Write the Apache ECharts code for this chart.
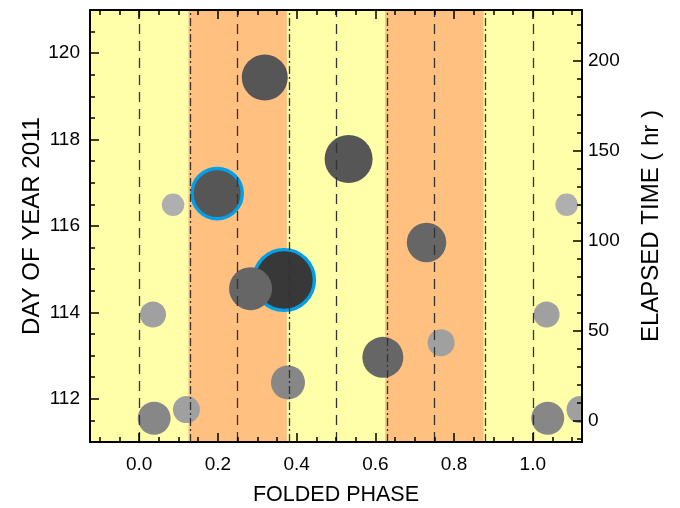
<!DOCTYPE html>
<html>
<head>
<meta charset="utf-8">
<script src="https://cdn.jsdelivr.net/npm/echarts@6/dist/echarts.min.js"></script>
<style>html,body{margin:0;padding:0;background:#fff}#c{width:680px;height:508px}</style>
</head>
<body>
<div id="c"></div>
<script>
// ---- data ----
const phase = [0.319, 0.532, 0.198, 0.086, 1.086, 0.368, 0.283, 0.035, 1.035, 0.038, 1.038, 0.120, 1.120, 0.378, 0.619, 0.730, 0.767];
const dayOfYear = [119.44, 117.55, 116.75, 116.49, 116.49, 114.75, 114.55, 113.95, 113.95, 111.55, 111.55, 111.75, 111.75, 112.38, 112.96, 115.62, 113.30];
const bubbleSize = [46, 48, 50.3, 22.5, 22.5, 60.7, 43, 26, 26, 33, 33, 27, 27, 34, 41, 39.5, 27];
const level = [5, 5, 5, 1, 1, 6, 4, 2, 2, 3, 3, 2, 2, 3, 4, 4, 2];
const ringed = [0, 0, 1, 0, 0, 1, 0, 0, 0, 0, 0, 0, 0, 0, 0, 0, 0];

const orangeBands = [[0.125, 0.375], [0.625, 0.875]];
const dashedLines = [0.0, 0.25, 0.5, 0.75, 1.0];
const dashDotLines = [0.125, 0.375, 0.625, 0.875];

const xMajorTicks = [0.0, 0.2, 0.4, 0.6, 0.8, 1.0];
const xMinorTicks = [-0.1, -0.05, 0.05, 0.1, 0.15, 0.25, 0.3, 0.35, 0.45, 0.5, 0.55, 0.65, 0.7, 0.75, 0.85, 0.9, 0.95, 1.05, 1.1];
const dayMajorTicks = [112, 114, 116, 118, 120];
const dayMinorTicks = [111.5, 112.5, 113, 113.5, 114.5, 115, 115.5, 116.5, 117, 117.5, 118.5, 119, 119.5, 120.5];
const hourMajorTicks = [0, 50, 100, 150, 200];
const hourMinorTicks = [-10, 10, 20, 30, 40, 60, 70, 80, 90, 110, 120, 130, 140, 160, 170, 180, 190, 210, 220];

// ---- styles ----
const shadeByLevel = {1: '#afafaf', 2: '#a0a0a0', 3: '#878787', 4: '#666666', 5: '#565656', 6: '#383838'};
const FONT = 'Liberation Sans';
const black = '#000';

function xAxisDef(pos, ticks, len, withLine, withLabel) {
  return {
    type: 'value', min: -0.125, max: 1.125, position: pos, gridIndex: 0,
    axisLine: {show: withLine, onZero: false, lineStyle: {color: black, width: 2}},
    axisTick: {show: true, inside: true, length: len, customValues: ticks, lineStyle: {color: black, width: 1.5}},
    axisLabel: {show: withLabel, customValues: ticks, formatter: v => Number(v).toFixed(1), margin: 13,
      fontSize: 19, color: black, fontFamily: FONT},
    splitLine: {show: false}, z: 10
  };
}
function yAxisDef(pos, min, max, ticks, len, withLine, withLabel, fmt, margin) {
  return {
    type: 'value', min: min, max: max, position: pos, gridIndex: 0,
    axisLine: {show: withLine, onZero: false, lineStyle: {color: black, width: 2}},
    axisTick: {show: true, inside: true, length: len, customValues: ticks, lineStyle: {color: black, width: 1.5}},
    axisLabel: {show: withLabel, customValues: ticks, formatter: fmt, margin: margin,
      fontSize: 19, color: black, fontFamily: FONT},
    splitLine: {show: false}, z: 10
  };
}

const xMain = xAxisDef('bottom', xMajorTicks, 9, true, true);
xMain.name = 'FOLDED PHASE';
xMain.nameLocation = 'middle';
xMain.nameGap = 42;
xMain.nameMoveOverlap = false;
xMain.nameTextStyle = {fontSize: 21.5, color: black, fontFamily: FONT};

const yDay = yAxisDef('left', 111, 121, dayMajorTicks, 9, true, true, v => String(Math.round(v)), 10);
yDay.name = 'DAY OF YEAR 2011';
yDay.nameLocation = 'middle';
yDay.nameRotate = 90;
yDay.nameGap = 46;
yDay.nameMoveOverlap = false;
yDay.nameTextStyle = {fontSize: 24, color: black, fontFamily: FONT};

const yHour = yAxisDef('right', -12, 228, hourMajorTicks, 9, true, true, v => String(Math.round(v)), 6);
yHour.name = 'ELAPSED TIME ( hr )';
yHour.nameLocation = 'middle';
yHour.nameRotate = 90;
yHour.nameGap = 57;
yHour.nameMoveOverlap = false;
yHour.nameTextStyle = {fontSize: 24, color: black, fontFamily: FONT};

const points = phase.map((p, i) => [p, dayOfYear[i]]);

const option = {
  animation: false,
  backgroundColor: '#fff',
  grid: {left: 90, right: 98, top: 10, bottom: 66, show: true, backgroundColor: '#ffffaa', borderWidth: 0,
    containLabel: false, outerBoundsMode: 'none'},
  xAxis: [
    xMain,
    xAxisDef('bottom', xMinorTicks, 5, false, false),
    xAxisDef('top', xMajorTicks, 9, true, false),
    xAxisDef('top', xMinorTicks, 5, false, false)
  ],
  yAxis: [
    yDay,
    yAxisDef('left', 111, 121, dayMinorTicks, 5, false, false, null, 8),
    yHour,
    yAxisDef('right', -12, 228, hourMinorTicks, 5, false, false, null, 8)
  ],
  series: [
    {
      type: 'scatter', xAxisIndex: 0, yAxisIndex: 0, data: [], z: 1, silent: true,
      markArea: {
        silent: true,
        itemStyle: {color: '#ffc080'},
        data: orangeBands.map(b => [{xAxis: b[0]}, {xAxis: b[1]}])
      },
      markLine: {
        silent: true, symbol: ['none', 'none'], label: {show: false},
        data: dashedLines.map(v => ({xAxis: v, lineStyle: {type: [10, 7], color: '#333', width: 1.3}}))
          .concat(dashDotLines.map(v => ({xAxis: v, lineStyle: {type: [8, 3, 2, 3], color: '#333', width: 1.3}})))
      }
    },
    {
      type: 'custom', xAxisIndex: 0, yAxisIndex: 0, z: 3, clip: true,
      data: points,
      renderItem: function (params, api) {
        const i = params.dataIndex;
        const c = api.coord([api.value(0), api.value(1)]);
        const ring = ringed[i] === 1;
        return {
          type: 'circle',
          shape: {cx: c[0], cy: c[1], r: bubbleSize[i] / 2},
          style: {fill: shadeByLevel[level[i]], stroke: ring ? '#00a0e8' : null, lineWidth: ring ? 3.4 : 0}
        };
      }
    }
  ]
};

const chart = echarts.init(document.getElementById('c'), null, {renderer: 'canvas'});
chart.setOption(option);
</script>
</body>
</html>
